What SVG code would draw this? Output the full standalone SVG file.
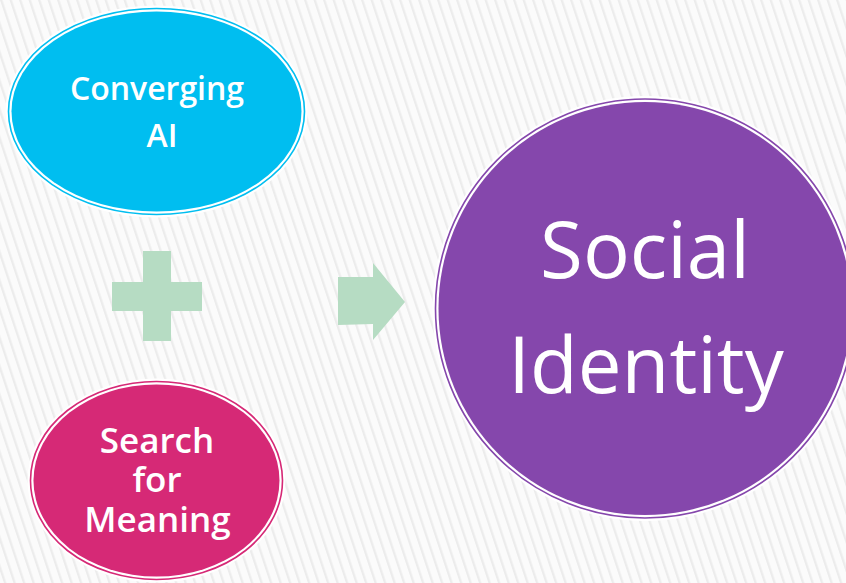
<svg xmlns="http://www.w3.org/2000/svg" width="846" height="583" viewBox="0 0 846 583">
<defs>
<pattern id="stripes" patternUnits="userSpaceOnUse" width="9.5" height="40" patternTransform="skewX(18.4)">
<rect x="0" y="0" width="9.5" height="40" fill="#fbfbfb"/>
<rect x="0" y="0" width="2.4" height="40" fill="#ececec"/>
</pattern>
<style>
.halo{fill:#ffffff}
.lbl{font-family:"Open Sans","DejaVu Sans",sans-serif;fill:#ffffff;text-anchor:middle}
.small{font-size:32px;font-weight:600}
.mid{font-size:35px;font-weight:600}
.big{font-size:78px;font-weight:400}
.sym{fill:#b6dcc3}
</style>
</defs>
<rect x="0" y="0" width="846" height="583" fill="url(#stripes)"/>
<g id="node-converging-ai">
<ellipse class="halo" cx="156.5" cy="111.5" rx="151" ry="106"/>
<ellipse cx="156.5" cy="111.5" rx="148" ry="103" fill="none" stroke="#00bef0" stroke-width="1.6"/>
<ellipse cx="156.5" cy="111.5" rx="145" ry="100" fill="#00bef0"/>
<text class="lbl small" x="157" y="100">Converging</text>
<text class="lbl small" x="162" y="147">AI</text>
</g>
<g id="node-search-for-meaning">
<ellipse class="halo" cx="156.5" cy="480.5" rx="129" ry="102"/>
<ellipse cx="156.5" cy="480.5" rx="126" ry="99" fill="none" stroke="#d62976" stroke-width="1.6"/>
<ellipse cx="156.5" cy="480.5" rx="123" ry="96" fill="#d62976"/>
<text class="lbl mid" x="157" y="453">Search</text>
<text class="lbl mid" x="157" y="492">for</text>
<text class="lbl mid" x="157.5" y="532">Meaning</text>
</g>
<g id="node-social-identity">
<circle class="halo" cx="645" cy="308.5" r="212.5"/>
<circle cx="645" cy="308.5" r="209.5" fill="none" stroke="#8547ac" stroke-width="1.6"/>
<circle cx="645" cy="308.5" r="206.5" fill="#8547ac"/>
<text class="lbl big" x="645" y="278">Social</text>
<text class="lbl big" x="646" y="393">Identity</text>
</g>
<g id="connectors">
<path class="sym" d="M143,251 H171 V282 H202 V311 H171 V341 H143 V311 H112 V282 H143 Z"/>
<polygon class="sym" points="338,277 373,277 373,263 405,302 373,340 373,324 338,325"/>
</g>
</svg>
